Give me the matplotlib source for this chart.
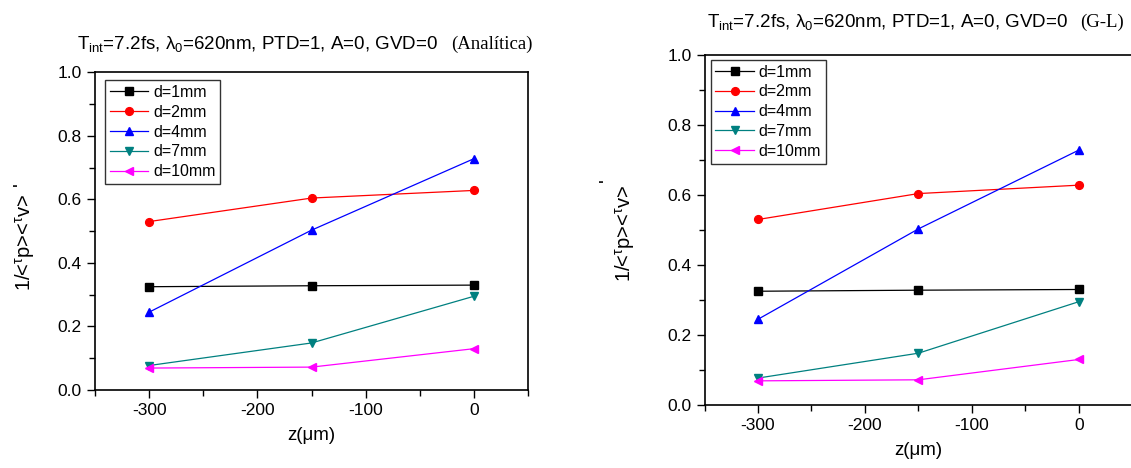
import matplotlib
matplotlib.use('Agg')
import matplotlib.pyplot as plt
from matplotlib.ticker import MultipleLocator

plt.rcParams['font.family'] = ['Liberation Sans', 'DejaVu Sans']
plt.rcParams['mathtext.fontset'] = 'custom'
plt.rcParams['mathtext.rm'] = 'Liberation Sans'
plt.rcParams['mathtext.it'] = 'Liberation Sans'
plt.rcParams['axes.unicode_minus'] = False

# data
z = [-300, -150, 0]
labels = ['d=1mm', 'd=2mm', 'd=4mm', 'd=7mm', 'd=10mm']
d1 = [0.325, 0.328, 0.330]
d2 = [0.530, 0.604, 0.628]
d4 = [0.245, 0.503, 0.728]
d7 = [0.077, 0.148, 0.295]
d10 = [0.069, 0.072, 0.130]

series = [d1, d2, d4, d7, d10]
colors = ['black', 'red', 'blue', '#008080', 'magenta']
markers = ['s', 'o', '^', 'v', '<']

fig = plt.figure(figsize=(11.31, 4.68), dpi=100)
ax1 = fig.add_axes([0.084, 0.1667, 0.383, 0.679])
ax2 = fig.add_axes([0.623, 0.1346, 0.378, 0.748])


def draw(ax, leg_anchor, lab_xy):
    for y, c, m, lab in zip(series, colors, markers, labels):
        ax.plot(z, y, color=c, marker=m, markersize=5.6, lw=0.9, label=lab)
    ax.set_xlim(-350, 50)
    ax.set_ylim(0, 1.0)
    ax.xaxis.set_major_locator(MultipleLocator(100))
    ax.xaxis.set_minor_locator(MultipleLocator(50))
    ax.yaxis.set_major_locator(MultipleLocator(0.2))
    ax.yaxis.set_minor_locator(MultipleLocator(0.1))
    ax.yaxis.set_major_formatter(plt.FormatStrFormatter('%.1f'))
    ax.tick_params(which='both', direction='out', top=False, right=False,
                   labelsize=12.5, width=1)
    ax.tick_params(which='major', length=6)
    ax.tick_params(which='minor', length=4)
    for s in ax.spines.values():
        s.set_linewidth(1.2)
    ax.set_xlabel('z(μm)', fontsize=13.5, labelpad=6)
    ax.set_ylabel(r'1/<$^{\tau}$p><$^{\tau}$v>', fontsize=14.5)
    ax.yaxis.set_label_coords(*lab_xy)
    leg = ax.legend(loc='upper left', bbox_to_anchor=leg_anchor, fontsize=11.5,
                    frameon=True, fancybox=False, handlelength=2.4,
                    borderpad=0.3, labelspacing=0.3, handletextpad=0.3,
                    borderaxespad=0)
    leg.get_frame().set_edgecolor('black')
    leg.get_frame().set_linewidth(1.0)


draw(ax1, (0.023, 0.975), (-0.134, 0.465))
draw(ax2, (0.014, 0.986), (-0.157, 0.489))

# prime on the y labels
fig.text(0.019, 0.607, "'", rotation=90, fontsize=15, ha='center', va='center')
fig.text(0.537, 0.616, "'", rotation=90, fontsize=15, ha='center', va='center')

main = r'T$_{\rm int}$=7.2fs, λ$_0$=620nm, PTD=1, A=0, GVD=0'
fig.text(0.387, 0.905, main, fontsize=13.5, ha='right', va='center')
fig.text(0.399, 0.905, '(Analítica)', fontsize=13.5, ha='left', va='center',
         family='Liberation Serif')
fig.text(0.944, 0.953, main, fontsize=13.5, ha='right', va='center')
fig.text(0.955, 0.953, '(G-L)', fontsize=13.5, ha='left', va='center',
         family='Liberation Serif')

fig.savefig('out.png', dpi=100)
